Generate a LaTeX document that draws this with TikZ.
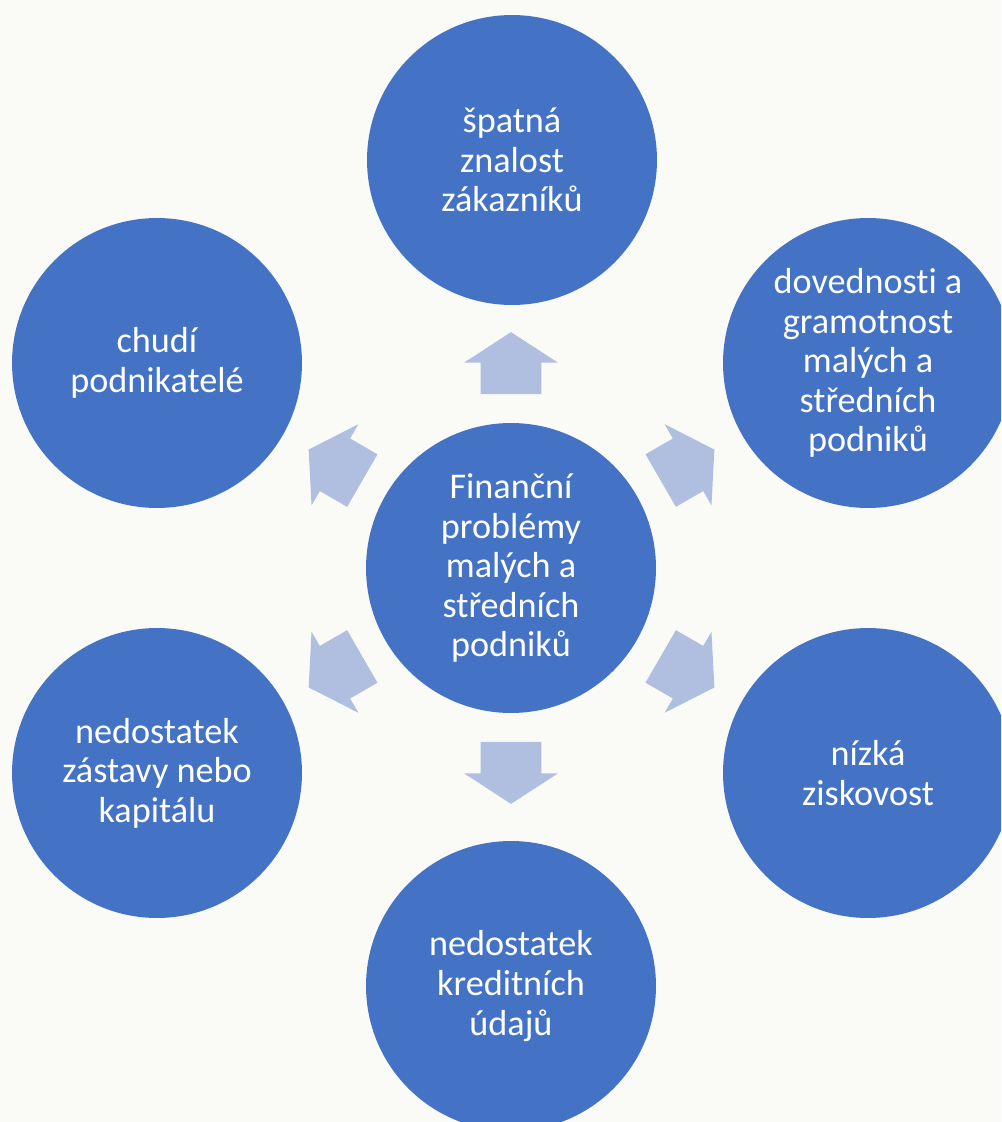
\documentclass[tikz,border=0pt]{standalone}
\usepackage{fontspec}
\setmainfont{Carlito}[Ligatures=NoCommon]
\usepackage{tikz}
\usetikzlibrary{shapes.arrows}
\definecolor{circblue}{RGB}{68,114,196}
\definecolor{arrowblue}{RGB}{176,190,224}
\definecolor{paper}{RGB}{250,251,247}

\begin{document}
\begin{tikzpicture}[x=0.02cm, y=-0.02cm]
\tikzstyle{bubble}=[circle, fill=circblue, text=white, minimum size=5.8cm, inner sep=0pt, align=center, font=\fontsize{20.6}{22.5}\selectfont]
\tikzstyle{blockarrow}=[single arrow, fill=arrowblue, minimum height=1.24cm, inner xsep=0pt, inner ysep=0.6cm, single arrow head extend=0.33cm, single arrow tip angle=114]
\useasboundingbox (0,0) rectangle (1001,1122);
\clip (0,0) rectangle (1001,1122);
\fill[paper] (0,0) rectangle (1001,1122);

\node[bubble] (c) at (511,568) {Finanční\\problémy\\malých a\\středních\\podniků};
\node[bubble] (n) at (512,160) {špatná\\znalost\\zákazníků};
\node[bubble] (ne) at (868,363) {dovednosti a\\gramotnost\\malých a\\středních\\podniků};
\node[bubble] (se) at (868,773) {nízká\\ziskovost};
\node[bubble] (s) at (511,986) {nedostatek\\kreditních\\údajů};
\node[bubble] (sw) at (157,773) {nedostatek\\zástavy nebo\\kapitálu};
\node[bubble] (nw) at (157,363) {chudí\\podnikatelé};

\node[blockarrow, rotate=90] (an) at (511,373) {};
\node[blockarrow, rotate=30] (ane) at (679,470) {};
\node[blockarrow, rotate=-30] (ase) at (679,667) {};
\node[blockarrow, rotate=-90] (as) at (511,763) {};
\node[blockarrow, rotate=210] (asw) at (344,667) {};
\node[blockarrow, rotate=150] (anw) at (344,470) {};

\end{tikzpicture}
\end{document}
